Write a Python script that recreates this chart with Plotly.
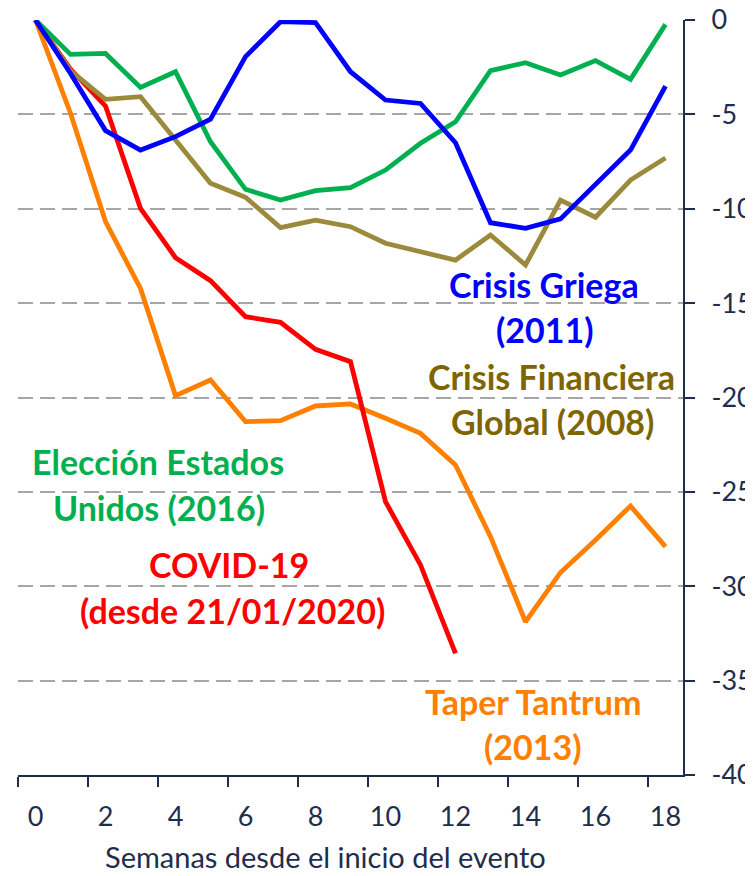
import plotly.graph_objects as go

weeks = list(range(19))
x_tick_vals = [0, 2, 4, 6, 8, 10, 12, 14, 16, 18]
x_tick_text = ["0", "2", "4", "6", "8", "10", "12", "14", "16", "18"]
y_tick_vals = [0, -5, -10, -15, -20, -25, -30, -35, -40]
y_tick_text = ["0", "-5", "-10", "-15", "-20", "-25", "-30", "-35", "-40"]

eleccion_2016 = [0, -1.82, -1.77, -3.57, -2.74, -6.45, -8.97, -9.54, -9.04, -8.88,
                 -7.95, -6.53, -5.39, -2.68, -2.26, -2.91, -2.15, -3.14, -0.23]
griega_2011 = [0, -2.83, -5.86, -6.89, -6.18, -5.25, -1.94, -0.09, -0.14, -2.74,
               -4.24, -4.42, -6.5, -10.74, -11.04, -10.54, -8.71, -6.89, -3.5]
financiera_2008 = [0, -2.68, -4.2, -4.06, -6.36, -8.65, -9.39, -11.0, -10.6, -10.95,
                   -11.83, -12.27, -12.72, -11.39, -12.98, -9.54, -10.45, -8.48, -7.31]
covid_2020 = [0, -2.6, -4.56, -9.98, -12.59, -13.81, -15.72, -16.02, -17.45, -18.1,
              -25.52, -28.87, -33.55]
taper_2013 = [0, -4.94, -10.68, -14.22, -19.9, -19.07, -21.28, -21.23, -20.45, -20.34,
              -21.1, -21.9, -23.58, -27.37, -31.88, -29.27, -27.55, -25.75, -27.9]

FONT = "Lato"
AXIS_COLOR = "#1F2D4D"

series = [
    ("Taper Tantrum (2013)", taper_2013, "#FF8000"),
    ("COVID-19", covid_2020, "#FF0000"),
    ("Crisis Financiera Global (2008)", financiera_2008, "#9B8A3C"),
    ("Elección Estados Unidos (2016)", eleccion_2016, "#00B050"),
    ("Crisis Griega (2011)", griega_2011, "#0000FF"),
]

fig = go.Figure()
for name, vals, color in series:
    fig.add_trace(go.Scatter(
        x=weeks[:len(vals)], y=vals, mode="lines", name=name,
        line=dict(color=color, width=4.8), showlegend=False,
    ))

# label positions expressed via data coordinates
labels = [
    ("<b>Crisis Griega</b>", 14.53, -14.0, "#0000FF"),
    ("<b>(2011)</b>", 14.56, -16.4, "#0000FF"),
    ("<b>Crisis Financiera</b>", 14.73, -18.9, "#7F6500"),
    ("<b>Global (2008)</b>", 14.76, -21.25, "#7F6500"),
    ("<b>Elección Estados</b>", 3.5, -23.4, "#00B050"),
    ("<b>Unidos (2016)</b>", 3.53, -25.85, "#00B050"),
    ("<b>COVID-19</b>", 5.53, -28.85, "#FF0000"),
    ("<b>(desde 21/01/2020)</b>", 5.64, -31.3, "#FF0000"),
    ("<b>Taper Tantrum</b>", 14.2, -36.1, "#FF8000"),
    ("<b>(2013)</b>", 14.2, -38.5, "#FF8000"),
]
for text, xv, yv, color in labels:
    fig.add_annotation(x=xv, y=yv, text=text, showarrow=False,
                       xanchor="center", yanchor="middle",
                       font=dict(family=FONT, size=34, color=color))

fig.add_annotation(x=0.463, y=-0.108, xref="paper", yref="paper",
                   text="Semanas desde el inicio del evento", showarrow=False,
                   xanchor="center", yanchor="middle",
                   font=dict(family=FONT, size=29, color=AXIS_COLOR))

# page body adds an 8px margin, so the figure is sized/offset to compensate
fig.update_layout(
    width=745, height=868,
    margin=dict(l=10, r=70, t=12, b=101),
    paper_bgcolor="white", plot_bgcolor="white",
    font=dict(family=FONT, color=AXIS_COLOR),
    xaxis=dict(
        range=[-0.5, 18.5], tickmode="array", tickvals=x_tick_vals, ticktext=x_tick_text,
        ticks="", showgrid=False, zeroline=False, automargin=False,
        showline=True, linecolor=AXIS_COLOR, linewidth=2,
        tickfont=dict(family=FONT, size=27, color=AXIS_COLOR),
        ticklabelstandoff=17, ticklabeloverflow="allow",
        minor=dict(tickmode="array", tickvals=[-0.5 + 2 * i for i in range(10)],
                   ticks="outside", ticklen=10, tickwidth=2, tickcolor=AXIS_COLOR,
                   showgrid=False),
    ),
    yaxis=dict(
        range=[-40, 0], side="right", tickmode="array", tickvals=y_tick_vals, ticktext=y_tick_text,
        ticks="outside", ticklen=10, tickwidth=2, tickcolor=AXIS_COLOR,
        showline=True, linecolor=AXIS_COLOR, linewidth=2, zeroline=False, automargin=False,
        showgrid=True, gridcolor="#A6A6A6", gridwidth=2, griddash="15px,7px",
        tickfont=dict(family=FONT, size=27, color=AXIS_COLOR),
        ticklabelstandoff=11, ticklabeloverflow="allow",
    ),
)

fig.write_html("out.html")
